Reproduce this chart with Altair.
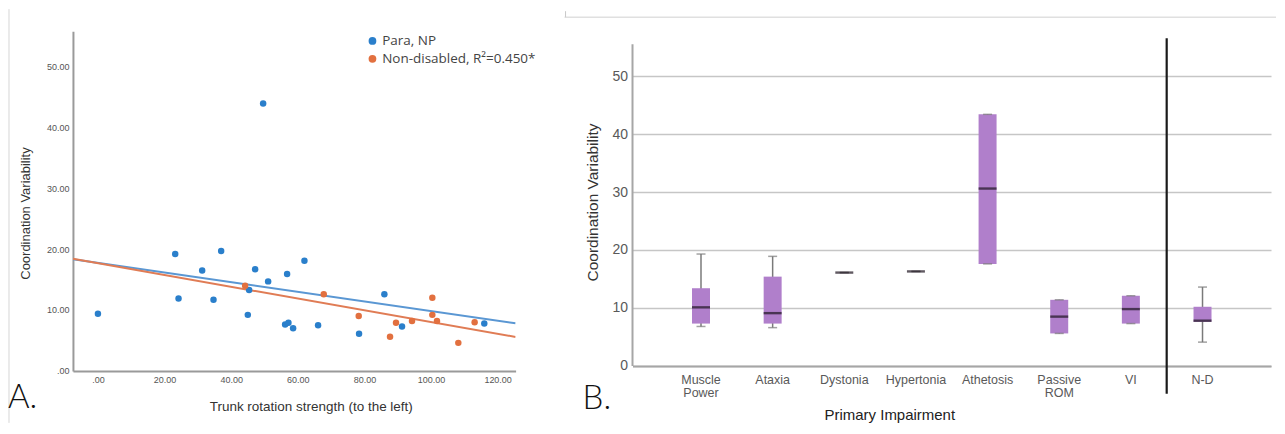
import altair as alt
import pandas as pd

# ---------------- Panel A data ----------------
para_x = [0.0, 23.2, 24.2, 31.3, 34.7, 37.0, 45.0, 45.4, 47.2, 49.6, 51.1,
          56.8, 62.0, 56.2, 57.2, 58.6, 66.1, 78.4, 86.0, 91.3, 116.0]
para_y = [9.4, 19.2, 11.9, 16.5, 11.7, 19.7, 9.2, 13.3, 16.7, 43.9, 14.7,
          15.9, 18.1, 7.6, 7.9, 7.0, 7.5, 6.1, 12.6, 7.3, 7.8]
nd_x = [44.2, 67.8, 78.3, 87.7, 89.5, 94.3, 100.4, 100.4, 101.8, 108.2, 113.1]
nd_y = [14.0, 12.6, 9.0, 5.6, 7.9, 8.2, 12.0, 9.2, 8.2, 4.6, 8.0]
group_names = ["Para, NP", "Non-disabled, R²=0.450*"]
x_ticks_a = [0, 20, 40, 60, 80, 100, 120]
y_ticks_a = [0, 10, 20, 30, 40, 50]
x_domain_a = [-7.5, 125.4]
y_domain_a = [0, 55.8]

# ---------------- Panel B data ----------------
impairments = ["Muscle Power", "Ataxia", "Dystonia", "Hypertonia",
               "Athetosis", "Passive ROM", "VI", "N-D"]
whisk_lo = [6.8, 6.6, 16.1, 16.3, 17.6, 5.6, 7.3, 4.1]
q1 = [7.3, 7.3, 16.1, 16.3, 17.6, 5.6, 7.3, 7.6]
med = [10.1, 9.1, 16.1, 16.3, 30.6, 8.5, 9.8, 7.8]
q3 = [13.4, 15.4, 16.1, 16.3, 43.4, 11.4, 12.1, 10.2]
whisk_hi = [19.3, 18.9, 16.1, 16.3, 43.4, 11.4, 12.1, 13.6]
y_ticks_b = [0, 10, 20, 30, 40, 50]
y_domain_b = [0, 57.76]
axis_span_b = [0, 55.5]
panel_labels = ["A.", "B."]

point_colors = ["#2a7fcb", "#e2703f"]
line_colors = ["#5a97d3", "#e07c55"]
fmt = "datum.value == 0 ? '.00' : format(datum.value, '.2f')"

df_a = pd.DataFrame({
    "x": para_x + nd_x,
    "y": para_y + nd_y,
    "group": [group_names[0]] * len(para_x) + [group_names[1]] * len(nd_x),
})

xs_a = alt.Scale(domain=x_domain_a, nice=False, zero=False)
ys_a = alt.Scale(domain=y_domain_a, nice=False)

x_axis_a = alt.Axis(values=x_ticks_a, labelExpr=fmt, labelFontSize=9, labelColor="#555",
                    labelFont="Liberation Sans", ticks=False, grid=False,
                    domainColor="#9a9a9a", domainWidth=2, labelPadding=5,
                    title="Trunk rotation strength (to the left)", titleFontSize=13.5,
                    titleFont="Liberation Sans", titleFontWeight="normal",
                    titleColor="#333", titleX=238, titlePadding=15)
y_axis_a = alt.Axis(values=y_ticks_a, labelExpr=fmt, labelFontSize=9, labelColor="#555",
                    labelFont="Liberation Sans", ticks=False, grid=False,
                    domainColor="#9a9a9a", domainWidth=2, labelPadding=4,
                    title="Coordination Variability", titleFontSize=13,
                    titleFont="Liberation Sans", titleFontWeight="normal",
                    titleColor="#333", titleX=-47, titleY=182, titleAngle=270,
                    titleAlign="center", titleBaseline="middle")

lines_a = alt.Chart(df_a).transform_regression(
    "x", "y", groupby=["group"], extent=x_domain_a
).mark_line(strokeWidth=2, clip=True).encode(
    x=alt.X("x:Q", scale=xs_a, axis=x_axis_a),
    y=alt.Y("y:Q", scale=ys_a, axis=y_axis_a),
    color=alt.Color("group:N", scale=alt.Scale(domain=group_names, range=line_colors),
                    legend=None),
)

points_a = alt.Chart(df_a).mark_circle(size=42, opacity=1).encode(
    x=alt.X("x:Q", scale=xs_a, axis=x_axis_a),
    y=alt.Y("y:Q", scale=ys_a, axis=y_axis_a),
    color=alt.Color("group:N", scale=alt.Scale(domain=group_names, range=point_colors),
                    legend=alt.Legend(title=None, orient="none", legendX=293, legendY=3,
                                      symbolType="circle", symbolSize=60,
                                      labelFontSize=13.5, labelFont="Open Sans",
                                      labelColor="#444", rowPadding=3, labelOffset=3)),
)

one = pd.DataFrame({"t": [panel_labels[0]]})
label_a = alt.Chart(one).mark_text(align="left", baseline="alphabetic", fontSize=33,
                                   font="Lato", fontWeight=300, color="#111").encode(
    text="t:N", x=alt.value(-65), y=alt.value(377))
border_a = alt.Chart(one).mark_rule(color="#d6d6d6", strokeWidth=1).encode(
    x=alt.value(-64), y=alt.value(-22), y2=alt.value(392))

chart_a = alt.layer(border_a, lines_a, points_a, label_a).resolve_scale(
    color="independent").properties(width=443, height=340)

# ---------------- Panel B ----------------
df_b = pd.DataFrame({"cat": impairments, "lo": whisk_lo, "q1": q1, "med": med,
                     "q3": q3, "hi": whisk_hi})

xs_b = alt.Scale(domain=impairments, paddingOuter=0.456, paddingInner=0)
ys_b = alt.Scale(domain=y_domain_b, nice=False)

x_axis_b = alt.Axis(title="Primary Impairment", labelAngle=0,
                    labelExpr="split(datum.label, ' ')", labelFontSize=12.5,
                    labelColor="#595959", labelFont="Liberation Sans", labelLineHeight=13,
                    labelPadding=8, labelBaseline="top", ticks=False,
                    domainColor="#a6a6a6", domainWidth=2, titleFontSize=15,
                    titleFont="Liberation Sans", titleColor="#222",
                    titleFontWeight="normal", titleX=257, titleAlign="center",
                    titlePadding=8)
y_axis_b = alt.Axis(values=y_ticks_b, grid=True, gridColor="#c6c6c6", gridWidth=1.5,
                    domain=False, ticks=False, labelFontSize=14, labelColor="#595959",
                    labelFont="Liberation Sans", labelPadding=5,
                    title="Coordination Variability", titleFontSize=15.5,
                    titleFont="Liberation Sans", titleFontWeight="normal",
                    titleColor="#333", titleX=-40, titleY=171, titleAngle=270,
                    titleAlign="center", titleBaseline="middle")

base_b = alt.Chart(df_b)
xenc = alt.X("cat:N", scale=xs_b, axis=x_axis_b, sort=impairments)

whisker = base_b.mark_rule(color="#7a7a7a", strokeWidth=1.5).encode(
    x=xenc, y=alt.Y("lo:Q", scale=ys_b, axis=y_axis_b), y2="hi:Q")
box = base_b.mark_bar(size=18, color="#b07fcb").encode(
    x=xenc, y=alt.Y("q1:Q", scale=ys_b, axis=y_axis_b), y2="q3:Q")
cap_lo = base_b.mark_tick(size=9, thickness=1.5, color="#7a7a7a").encode(
    x=xenc, y=alt.Y("lo:Q", scale=ys_b, axis=y_axis_b))
cap_hi = base_b.mark_tick(size=9, thickness=1.5, color="#7a7a7a").encode(
    x=xenc, y=alt.Y("hi:Q", scale=ys_b, axis=y_axis_b))
median = base_b.mark_tick(size=18, thickness=2.4, color="#1e1420").encode(
    x=xenc, y=alt.Y("med:Q", scale=ys_b, axis=y_axis_b))

one_b = pd.DataFrame({"t": [panel_labels[1]]})
yline = alt.Chart(one_b).mark_rule(color="#a6a6a6", strokeWidth=2).encode(
    x=alt.value(0), y=alt.YDatum(axis_span_b[0]), y2=alt.Y2Datum(axis_span_b[1]))
divider = alt.Chart(one_b).mark_rule(color="#1a1a1a", strokeWidth=2.2, clip=False).encode(
    x=alt.XDatum("N-D", type="nominal", bandPosition=0), y=alt.value(7), y2=alt.value(363))
top_border = alt.Chart(one_b).mark_rule(color="#d0d0d0", strokeWidth=1).encode(
    x=alt.value(-68), x2=alt.value(644), y=alt.value(-14))
top_tick = alt.Chart(one_b).mark_rule(color="#c8c8c8", strokeWidth=1).encode(
    x=alt.value(-67), y=alt.value(-20), y2=alt.value(-14))
label_b = alt.Chart(one_b).mark_text(align="left", baseline="alphabetic", fontSize=33,
                                     font="Lato", fontWeight=300, color="#111").encode(
    text="t:N", x=alt.value(-50), y=alt.value(378))

chart_b = alt.layer(whisker, box, cap_lo, cap_hi, median, yline, divider,
                    top_border, top_tick, label_b).properties(width=639, height=335)

chart = alt.hconcat(chart_a, chart_b, spacing=27).properties(
    padding={"left": 0, "top": 0, "right": 0, "bottom": 0}
).configure_view(stroke=None)

chart.save("out.html", embed_options={"renderer": "svg", "actions": False})
